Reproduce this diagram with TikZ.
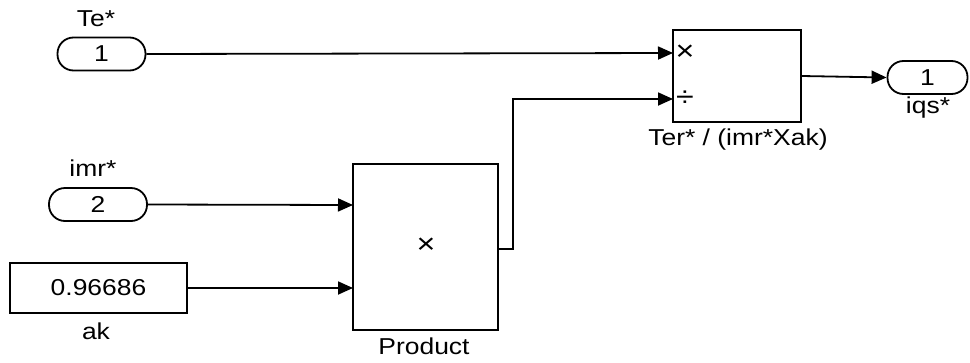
\documentclass[tikz,border=0pt]{standalone}
\usepackage{fontspec}
\setmainfont{Liberation Sans}[FakeStretch=1.15]
\usetikzlibrary{arrows.meta}
\begin{document}
\begin{tikzpicture}[x=1pt,y=-1pt,
  line width=1.8pt,
  txt/.style={font=\fontsize{23}{26}\selectfont},
  port/.style={draw, txt, rounded corners=16pt, minimum height=33pt, inner sep=0pt},
  blk/.style={draw, txt, inner sep=0pt},
  lbl/.style={txt, inner sep=0pt},
  sym/.style={inner sep=0pt, font=\fontsize{28}{30}\selectfont},
  sig/.style={-{Triangle[length=15pt,width=13pt]}}]
\useasboundingbox (0,0) rectangle (970,362);

% blocks
\node[port, minimum width=88pt] (in1) at (101.5,54) {1};
\node[port, minimum width=98pt] (in2) at (98,204.5) {2};
\node[blk, minimum width=177pt, minimum height=50pt] (ak) at (98.5,288) {0.96686};
\node[blk, minimum width=145pt, minimum height=166pt] (prod) at (425.5,247) {};
\node[blk, minimum width=128pt, minimum height=92pt] (div) at (737,76) {};
\node[port, minimum width=80pt] (out1) at (927.5,77.5) {1};

% symbols inside blocks
\node[sym] (px) at (426,246) {×};
\node[sym] (dx) at (685,53) {×};
\node[sym] (dd) at (685,99) {÷};

% labels
\node[lbl] (lTe) at (96,19) {Te*};
\node[lbl] (limr) at (93,168.5) {imr*};
\node[lbl] (lak) at (96,331.5) {ak};
\node[lbl] (lprod) at (424,346.5) {Product};
\node[lbl] (ldiv) at (738,140) {Ter* / (imr*Xak)};
\node[lbl] (liqs) at (928,108) {iqs*};

% input coordinates
\coordinate (divin1) at (673,53);
\coordinate (divin2) at (673,99);
\coordinate (prodin1) at (353,205);
\coordinate (prodin2) at (353,288);
\coordinate (prodout) at (498,249);

% connectors
\draw[sig] (in1.east) -- (divin1);
\draw[sig] (in2.east) -- (prodin1);
\draw[sig] (ak.east) -- (prodin2);
\draw[sig] (prodout) -- (513,249) |- (divin2);
\draw[sig] (div.east) -- (out1.west);
\end{tikzpicture}
\end{document}
